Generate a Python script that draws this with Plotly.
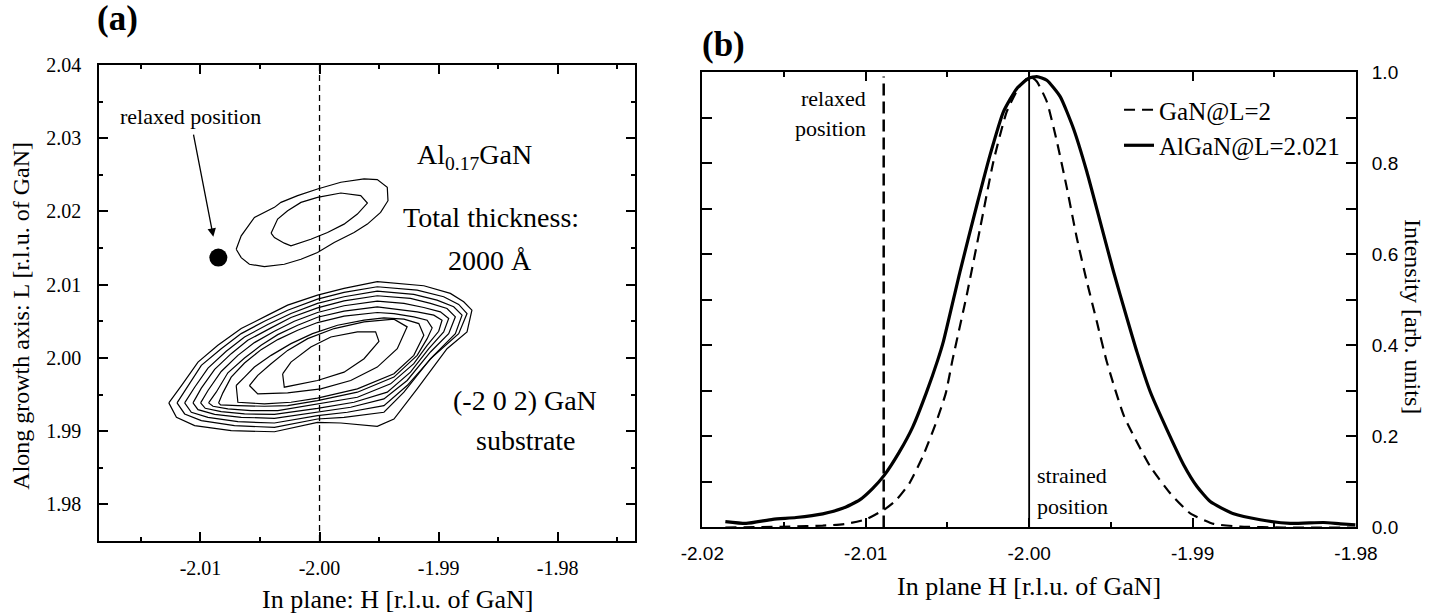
import plotly.graph_objects as go

# ---------------- Panel (a): reciprocal space map contours (H, L) ----------------
algan_outer_H = [-2.00700, -2.00658, -2.00547, -2.00379, -2.00324, -2.00184, -2.00017, -1.99821, -1.99626, -1.99515, -1.99431, -1.99425, -1.99487, -1.99598, -1.99710, -1.99877, -2.00017, -2.00156, -2.00296, -2.00463, -2.00589, -2.00658]
algan_outer_L = [2.01484, 2.01667, 2.01919, 2.02056, 2.02124, 2.02216, 2.02307, 2.02399, 2.02445, 2.02435, 2.02330, 2.02147, 2.01987, 2.01827, 2.01713, 2.01576, 2.01439, 2.01347, 2.01279, 2.01247, 2.01279, 2.01370]
algan_inner_H = [-2.00407, -2.00352, -2.00268, -2.00156, -2.00017, -1.99821, -1.99654, -1.99598, -1.99682, -1.99794, -1.99933, -2.00073, -2.00240, -2.00296, -2.00379]
algan_inner_L = [2.01704, 2.01896, 2.02010, 2.02124, 2.02193, 2.02252, 2.02216, 2.02115, 2.01964, 2.01827, 2.01713, 2.01621, 2.01530, 2.01567, 2.01644]

gan_c1_H = [-2.01266, -2.01202, -2.01049, -2.00742, -2.00379, -2.00017, -1.99821, -1.99515, -1.99375, -1.99180, -1.98929, -1.98761, -1.98720, -1.98789, -1.98901, -1.99124, -1.99515, -1.99794, -2.00017, -2.00268, -2.00435, -2.00658, -2.00854, -2.01021, -2.01160]
gan_c1_L = [1.99386, 1.99189, 1.99075, 1.99006, 1.98992, 1.99120, 1.99111, 1.99066, 1.99166, 1.99578, 2.00126, 2.00355, 2.00652, 2.00766, 2.00881, 2.00986, 2.01041, 2.00949, 2.00858, 2.00721, 2.00584, 2.00401, 2.00172, 1.99943, 1.99623]
gan_c2_H = [-2.01197, -2.01133, -2.00993, -2.00714, -2.00379, -2.00017, -1.99794, -1.99459, -1.99291, -1.99068, -1.98831, -1.98761, -1.98831, -1.98957, -1.99180, -1.99515, -1.99794, -2.00017, -2.00268, -2.00463, -2.00658, -2.00826, -2.00993, -2.01105]
gan_c2_L = [1.99386, 1.99235, 1.99143, 1.99075, 1.99052, 1.99166, 1.99189, 1.99258, 1.99532, 1.99989, 2.00332, 2.00606, 2.00730, 2.00835, 2.00926, 2.00972, 2.00894, 2.00803, 2.00652, 2.00501, 2.00332, 2.00126, 1.99898, 1.99623]
gan_c3_H = [-2.01133, -2.01077, -2.00937, -2.00686, -2.00379, -2.00017, -1.99766, -1.99459, -1.99264, -1.99040, -1.98859, -1.98803, -1.98873, -1.99013, -1.99208, -1.99515, -1.99794, -2.00017, -2.00240, -2.00435, -2.00630, -2.00784, -2.00937, -2.01049]
gan_c3_L = [1.99386, 1.99258, 1.99189, 1.99129, 1.99111, 1.99212, 1.99258, 1.99349, 1.99623, 2.00035, 2.00332, 2.00584, 2.00698, 2.00789, 2.00867, 2.00913, 2.00835, 2.00744, 2.00606, 2.00456, 2.00286, 2.00090, 1.99861, 1.99600]
gan_c4_H = [-2.01063, -2.01021, -2.00881, -2.00658, -2.00379, -2.00017, -1.99738, -1.99459, -1.99264, -1.99068, -1.98915, -1.98859, -1.98929, -1.99068, -1.99236, -1.99515, -1.99794, -2.00017, -2.00240, -2.00407, -2.00603, -2.00742, -2.00881, -2.00993]
gan_c4_L = [1.99386, 1.99294, 1.99230, 1.99189, 1.99175, 1.99258, 1.99326, 1.99440, 1.99692, 2.00081, 2.00332, 2.00561, 2.00675, 2.00744, 2.00812, 2.00849, 2.00780, 2.00684, 2.00552, 2.00410, 2.00241, 2.00058, 1.99843, 1.99587]
gan_c5_H = [-2.00999, -2.00960, -2.00826, -2.00630, -2.00379, -2.00017, -1.99710, -1.99431, -1.99236, -1.99082, -1.98957, -1.98915, -1.98985, -1.99124, -1.99291, -1.99515, -1.99794, -2.00017, -2.00212, -2.00379, -2.00547, -2.00686, -2.00826, -2.00937]
gan_c5_L = [1.99386, 1.99312, 1.99267, 1.99235, 1.99230, 1.99312, 1.99395, 1.99532, 1.99806, 2.00126, 2.00355, 2.00538, 2.00629, 2.00689, 2.00744, 2.00776, 2.00712, 2.00620, 2.00501, 2.00364, 2.00209, 2.00035, 1.99815, 1.99555]
gan_c6_H = [-2.00932, -2.00895, -2.00770, -2.00575, -2.00351, -2.00017, -1.99682, -1.99403, -1.99208, -1.99096, -1.98999, -1.98971, -1.99040, -1.99180, -1.99347, -1.99515, -1.99794, -2.00017, -2.00184, -2.00351, -2.00491, -2.00630, -2.00770, -2.00868]
gan_c6_L = [1.99386, 1.99340, 1.99303, 1.99280, 1.99280, 1.99367, 1.99463, 1.99646, 1.99921, 2.00172, 2.00364, 2.00515, 2.00584, 2.00629, 2.00666, 2.00698, 2.00638, 2.00556, 2.00446, 2.00318, 2.00172, 1.99998, 1.99797, 1.99532]
gan_c7_H = [-2.00848, -2.00831, -2.00686, -2.00463, -2.00268, -2.00017, -1.99682, -1.99375, -1.99180, -1.99096, -1.99054, -1.99096, -1.99208, -1.99375, -1.99515, -1.99794, -2.00017, -2.00184, -2.00351, -2.00491, -2.00630, -2.00742, -2.00812]
gan_c7_L = [1.99386, 1.99358, 1.99349, 1.99340, 1.99349, 1.99418, 1.99532, 1.99738, 2.00035, 2.00263, 2.00410, 2.00515, 2.00561, 2.00606, 2.00620, 2.00570, 2.00483, 2.00378, 2.00250, 2.00113, 1.99930, 1.99738, 1.99523]
gan_c8_H = [-2.00700, -2.00686, -2.00463, -2.00240, -2.00017, -1.99682, -1.99375, -1.99208, -1.99124, -1.99166, -1.99291, -1.99459, -1.99626, -1.99849, -2.00059, -2.00240, -2.00407, -2.00547, -2.00630]
gan_c8_L = [1.99623, 1.99395, 1.99372, 1.99395, 1.99450, 1.99578, 1.99783, 2.00035, 2.00309, 2.00469, 2.00529, 2.00547, 2.00515, 2.00446, 2.00332, 2.00195, 2.00035, 1.99875, 1.99738]
gan_c9_H = [-2.00589, -2.00519, -2.00268, -1.99989, -1.99738, -1.99515, -1.99347, -1.99264, -1.99375, -1.99626, -1.99877, -2.00100, -2.00268, -2.00407, -2.00519]
gan_c9_L = [1.99623, 1.99509, 1.99523, 1.99578, 1.99692, 1.99875, 2.00126, 2.00424, 2.00529, 2.00492, 2.00401, 2.00263, 2.00103, 1.99921, 1.99761]
gan_c10_H = [-2.00310, -2.00296, -2.00017, -1.99794, -1.99626, -1.99501, -1.99529, -1.99682, -1.99905, -2.00073, -2.00240]
gan_c10_L = [1.99783, 1.99600, 1.99692, 1.99806, 1.99989, 2.00227, 2.00355, 2.00355, 2.00286, 2.00149, 1.99943]

gan_contours = [(gan_c1_H, gan_c1_L), (gan_c2_H, gan_c2_L), (gan_c3_H, gan_c3_L),
                (gan_c4_H, gan_c4_L), (gan_c5_H, gan_c5_L), (gan_c6_H, gan_c6_L),
                (gan_c7_H, gan_c7_L), (gan_c8_H, gan_c8_L), (gan_c9_H, gan_c9_L),
                (gan_c10_H, gan_c10_L)]
algan_contours = [(algan_outer_H, algan_outer_L), (algan_inner_H, algan_inner_L)]

relaxed_point_H = [-2.0085]
relaxed_point_L = [2.0137]
strained_H_a = -2.000

a_xticks = [-2.01, -2.00, -1.99, -1.98]
a_xticktext = ["-2.01", "-2.00", "-1.99", "-1.98"]
a_yticks = [1.98, 1.99, 2.00, 2.01, 2.02, 2.03, 2.04]
a_yticktext = ["1.98", "1.99", "2.00", "2.01", "2.02", "2.03", "2.04"]
a_xrange = [-2.0185, -1.9735]
a_yrange = [1.975, 2.04]

# ---------------- Panel (b): line cuts ----------------
gan_H = [-2.01859, -2.01463, -2.01263, -2.01120, -2.00998, -2.00876, -2.00814, -2.00733, -2.00652, -2.00571,
         -2.00510, -2.00469, -2.00382, -2.00300, -2.00219, -2.00137, -2.00055, -1.99994, -1.99953, -1.99892,
         -1.99830, -1.99769, -1.99708, -1.99647, -1.99586, -1.99525, -1.99420, -1.99259, -1.99137, -1.99014,
         -1.98871, -1.98708, -1.98443, -1.98004]
gan_I = [0.000, 0.002, 0.004, 0.008, 0.018, 0.042, 0.060, 0.097, 0.155, 0.229,
         0.295, 0.368, 0.510, 0.657, 0.803, 0.913, 0.971, 0.990, 0.979, 0.935,
         0.847, 0.745, 0.635, 0.540, 0.452, 0.364, 0.245, 0.134, 0.075, 0.031,
         0.008, 0.002, 0.000, 0.000]

algan_H = [-2.01859, -2.01732, -2.01569, -2.01426, -2.01263, -2.01141, -2.01039, -2.00957, -2.00886, -2.00794,
           -2.00712, -2.00630, -2.00559, -2.00525, -2.00423, -2.00320, -2.00239, -2.00157, -2.00075, -2.00004,
           -1.99953, -1.99892, -1.99810, -1.99729, -1.99647, -1.99565, -1.99484, -1.99402, -1.99340, -1.99259,
           -1.99157, -1.99055, -1.98973, -1.98892, -1.98749, -1.98586, -1.98402, -1.98198, -1.98096, -1.98004]
algan_I = [0.013, 0.009, 0.018, 0.022, 0.030, 0.042, 0.060, 0.086, 0.115, 0.166,
           0.221, 0.295, 0.368, 0.408, 0.562, 0.708, 0.818, 0.913, 0.964, 0.986,
           0.990, 0.982, 0.946, 0.876, 0.781, 0.671, 0.562, 0.460, 0.385, 0.298,
           0.215, 0.138, 0.090, 0.057, 0.030, 0.017, 0.009, 0.011, 0.008, 0.006]

relaxed_H_b = -2.0089
strained_H_b = -2.000
b_xticks = [-2.02, -2.01, -2.00, -1.99, -1.98]
b_xticktext = ["-2.02", "-2.01", "-2.00", "-1.99", "-1.98"]
b_yticks = [0.0, 0.2, 0.4, 0.6, 0.8, 1.0]
b_yticktext = ["0.0", "0.2", "0.4", "0.6", "0.8", "1.0"]

SERIF = "Liberation Serif, Times New Roman, serif"
SANS = "Liberation Sans, Arial, sans-serif"

fig = go.Figure()

# contours (a)
for H, L in gan_contours + algan_contours:
    fig.add_trace(go.Scatter(x=H + [H[0]], y=L + [L[0]], mode="lines",
                             line=dict(color="black", width=1.2), showlegend=False,
                             hoverinfo="skip", xaxis="x", yaxis="y"))
# dashed strained line (a)
fig.add_trace(go.Scatter(x=[strained_H_a, strained_H_a], y=a_yrange, mode="lines",
                         line=dict(color="black", width=1.3, dash="6px,4px"),
                         showlegend=False, hoverinfo="skip", xaxis="x", yaxis="y"))
# relaxed point (a)
fig.add_trace(go.Scatter(x=relaxed_point_H, y=relaxed_point_L, mode="markers",
                         marker=dict(color="black", size=18), showlegend=False,
                         xaxis="x", yaxis="y"))

# panel (b)
fig.add_trace(go.Scatter(x=gan_H, y=gan_I, mode="lines", name="GaN@L=2",
                         line=dict(color="black", width=2.2, dash="11px,7px", shape="spline", smoothing=0.5),
                         xaxis="x2", yaxis="y2"))
fig.add_trace(go.Scatter(x=algan_H, y=algan_I, mode="lines", name="AlGaN@L=2.021",
                         line=dict(color="black", width=3.2, shape="spline", smoothing=0.5),
                         xaxis="x2", yaxis="y2"))
fig.add_trace(go.Scatter(x=[relaxed_H_b, relaxed_H_b], y=[0, 0.99], mode="lines",
                         line=dict(color="black", width=2.5, dash="12px,6px"),
                         showlegend=False, hoverinfo="skip", xaxis="x2", yaxis="y2"))
fig.add_trace(go.Scatter(x=[strained_H_b, strained_H_b], y=[0, 1.0], mode="lines",
                         line=dict(color="black", width=1.8),
                         showlegend=False, hoverinfo="skip", xaxis="x2", yaxis="y2"))

axis_common = dict(showgrid=False, zeroline=False, showline=True, linecolor="black",
                   linewidth=2, mirror="ticks", ticks="inside", tickcolor="black", tickwidth=1.5,
                   automargin=False)

fig.update_layout(
    width=1440, height=615, margin=dict(l=0, r=0, t=0, b=0, autoexpand=False),
    paper_bgcolor="white", plot_bgcolor="white",
    xaxis=dict(**axis_common, domain=[0.06896, 0.44097], range=a_xrange, anchor="y",
               tickmode="array", tickvals=a_xticks, ticktext=a_xticktext, ticklen=9,
               ticklabelstandoff=8,
               minor=dict(tickmode="linear", tick0=-2.0, dtick=0.005, ticks="inside", ticklen=4,
                          tickcolor="black", tickwidth=1.5),
               tickfont=dict(family=SERIF, size=20, color="black")),
    yaxis=dict(**axis_common, domain=[0.12033, 0.89431], range=a_yrange, anchor="x",
               tickmode="array", tickvals=a_yticks, ticktext=a_yticktext, ticklen=9,
               ticklabelstandoff=12,
               minor=dict(tickmode="linear", tick0=2.0, dtick=0.005, ticks="inside", ticklen=4,
                          tickcolor="black", tickwidth=1.5),
               tickfont=dict(family=SERIF, size=20, color="black")),
    xaxis2=dict(**axis_common, domain=[0.48771, 0.94167], range=[-2.02, -1.98], anchor="y2",
                tickmode="array", tickvals=b_xticks, ticktext=b_xticktext, ticklen=9,
                ticklabelstandoff=8,
                minor=dict(tickmode="linear", tick0=-2.0, dtick=0.005, ticks="inside", ticklen=5,
                           tickcolor="black", tickwidth=1.5),
                tickfont=dict(family=SANS, size=19, color="black")),
    yaxis2=dict(**axis_common, domain=[0.14228, 0.88293], range=[0, 1], anchor="x2", side="right",
                tickmode="array", tickvals=b_yticks, ticktext=b_yticktext, ticklen=10,
                ticklabelstandoff=10,
                minor=dict(tickmode="linear", tick0=0, dtick=0.1, ticks="inside", ticklen=10,
                           tickcolor="black", tickwidth=1.5),
                tickfont=dict(family=SANS, size=19, color="black")),
    legend=dict(x=0.7771, y=0.8585, xanchor="left", yanchor="top", bgcolor="rgba(0,0,0,0)",
                font=dict(family=SERIF, size=25, color="black"), tracegroupgap=0),
    font=dict(family=SERIF, color="black"),
)

def ann(text, x, y, size, xref="paper", yref="paper", xanchor="center", yanchor="middle", angle=0, bold=False):
    fig.add_annotation(text=f"<b>{text}</b>" if bold else text, x=x, y=y, xref=xref, yref=yref,
                       xanchor=xanchor, yanchor=yanchor, showarrow=False, textangle=angle,
                       font=dict(family=SERIF, size=size, color="black"))

# panel labels
ann("(a)", 0.08125, 0.9707, 35, bold=True)
ann("(b)", 0.50229, 0.92683, 35, bold=True)
# axis titles
ann("In plane: H [r.l.u. of GaN]", 0.27604, 0.0260, 26)
ann("Along growth axis: L [r.l.u. of GaN]", 0.014375, 0.48618, 24, angle=-90)
ann("In plane H [r.l.u. of GaN]", 0.71424, 0.04602, 26)
ann("Intensity [arb. units]", 0.98125, 0.48618, 24, angle=90)

# panel (a) text; the "relaxed position" label carries the arrow to the relaxed point
fig.add_annotation(text="relaxed position", x=-2.00892, y=2.01655, ax=-2.01088, ay=2.03294,
                   xref="x", yref="y", axref="x", ayref="y", showarrow=True, arrowhead=2,
                   arrowsize=1.3, arrowwidth=1.3, arrowcolor="black", startstandoff=4,
                   font=dict(family=SERIF, size=22, color="black"))
ann("Al<sub>0.17</sub>GaN", -1.98702, 2.02752, 28, xref="x", yref="y")
ann("Total thickness:", -1.98563, 2.01911, 28, xref="x", yref="y")
ann("2000 Å", -1.98567, 2.01324, 28, xref="x", yref="y")
ann("(-2 0 2) GaN", -1.98273, 1.99414, 28, xref="x", yref="y")
ann("substrate", -1.98265, 1.98871, 28, xref="x", yref="y")

# panel (b) text
ann("relaxed", -2.00985, 0.9423, 22, xref="x2", yref="y2", xanchor="right")
ann("position", -2.00985, 0.8764, 22, xref="x2", yref="y2", xanchor="right")
ann("strained", -1.99963, 0.1131, 22, xref="x2", yref="y2", xanchor="left")
ann("position", -1.99963, 0.0457, 22, xref="x2", yref="y2", xanchor="left")

fig.write_html("out.html")
